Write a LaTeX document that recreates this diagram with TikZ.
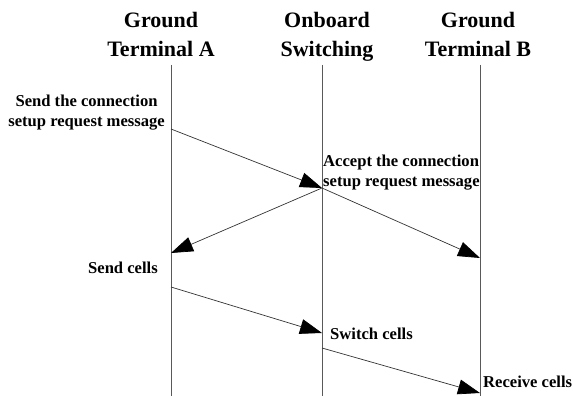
\documentclass[tikz,border=0pt]{standalone}
\usepackage{fontspec}
\setmainfont{Liberation Serif}
\usetikzlibrary{arrows.meta}

\begin{document}
\begin{tikzpicture}[x=1pt, y=-1pt,
  head/.style={align=center, inner sep=0pt, anchor=north, font=\bfseries\fontsize{22}{29}\selectfont},
  lbl/.style={inner sep=0pt, font=\bfseries\fontsize{16.6}{20}\selectfont},
  life/.style={draw=black!65, line width=0.9pt},
  msg/.style={-{Triangle[length=22pt, width=15pt, color=black]}, draw=black!80, line width=0.7pt}]
\useasboundingbox (0,0) rectangle (573,396);
% headers
\node[head] (hA) at (161, 12) {Ground\\Terminal A};
\node[head] (hS) at (327, 12) {Onboard\\Switching};
\node[head] (hB) at (478, 12) {Ground\\Terminal B};
% lifelines
\coordinate (tA) at (171, 65); \coordinate (bA) at (171, 396);
\coordinate (tS) at (322, 65); \coordinate (bS) at (322, 396);
\coordinate (tB) at (480, 65); \coordinate (bB) at (480, 396);
\path (tA) edge [life] (bA);
\path (tS) edge [life] (bS);
\path (tB) edge [life] (bB);
% points on the lifelines
\coordinate (a1) at (171, 129);
\coordinate (s1) at (322, 188);
\coordinate (a2) at (171, 253);
\coordinate (b1) at (480, 258);
\coordinate (a3) at (171, 287);
\coordinate (s2) at (322, 333);
\coordinate (s3) at (322, 348);
\coordinate (b2) at (480, 393);
% messages
\path (a1) edge [msg] (s1);
\path (s1) edge [msg] (a2);
\path (s1) edge [msg] (b1);
\path (a3) edge [msg] (s2);
\path (s3) edge [msg] (b2);
% labels
\node[lbl, align=center, anchor=north east] (L1) at (165, 95) {Send the connection\\setup request message};
\node[lbl, align=left, anchor=north west] (L2) at (323, 155) {Accept the connection\\setup request message};
\node[lbl, anchor=base east] (L3) at (158, 273) {Send cells};
\node[lbl, anchor=base west] (L4) at (330, 339) {Switch cells};
\node[lbl, anchor=base west] (L5) at (483, 387) {Receive cells};
\end{tikzpicture}
\end{document}
